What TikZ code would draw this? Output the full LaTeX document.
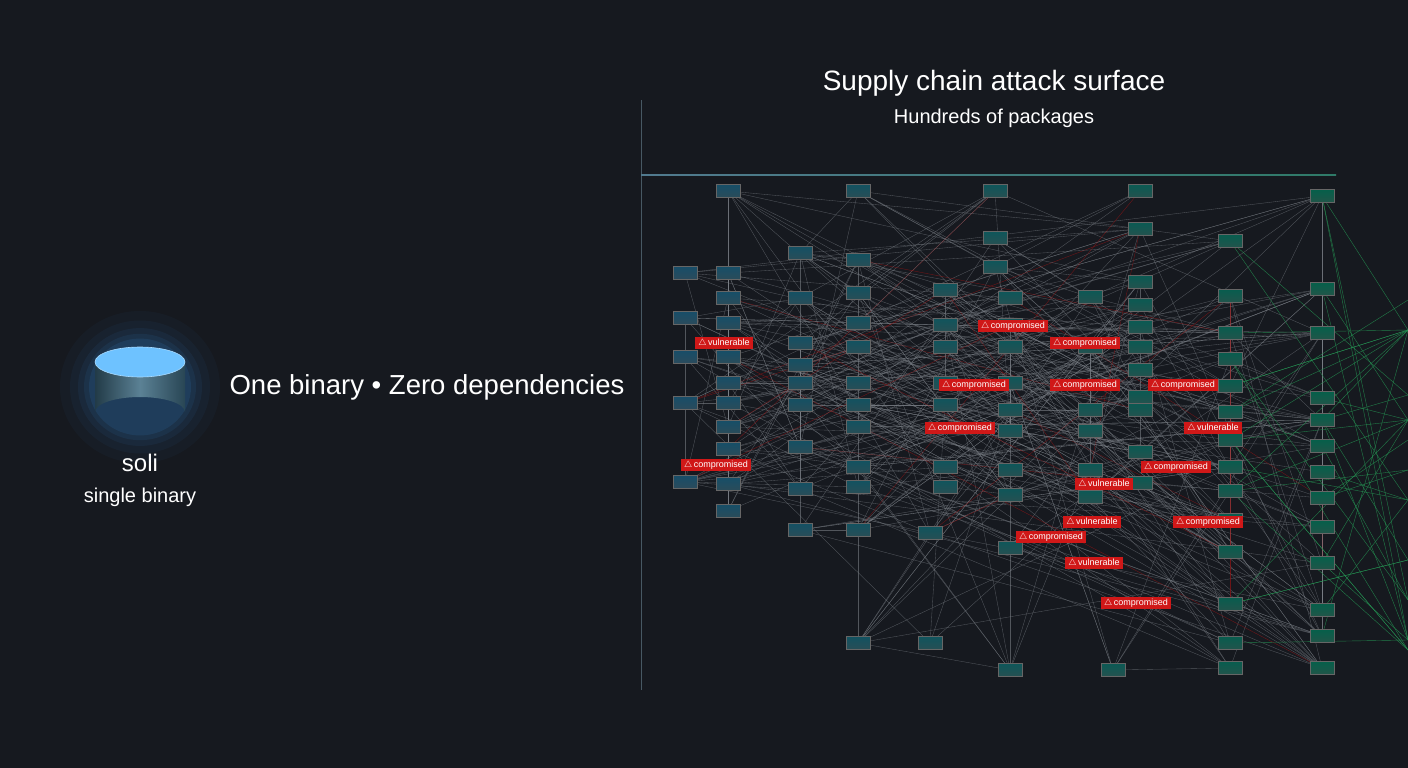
\documentclass[tikz,border=0pt]{standalone}
\usepackage{fontspec}
\setmainfont{Liberation Sans}
\definecolor{bg}{HTML}{16191F}
\definecolor{pkgA}{HTML}{3E6B82}
\definecolor{pkgB}{HTML}{2F7A68}
\definecolor{edge}{HTML}{7A7F86}
\definecolor{bad}{HTML}{D01818}
\definecolor{glow}{HTML}{3A8FE0}
\definecolor{captop}{HTML}{6EC2FF}
\tikzset{
 pkg/.style={draw=black!60,line width=0.4pt,top color=#1!120,bottom color=#1!70!black,minimum width=24pt,minimum height=13pt,inner sep=0pt},
 lnk/.style={edge,line width=0.35pt,opacity=0.6},
 rlnk/.style={bad!80!black,line width=0.4pt,opacity=0.6},
 glnk/.style={pkgB!80!green,line width=0.4pt,opacity=0.8},
 tag/.style={fill=bad,text=white,font=\fontsize{9}{10}\selectfont,inner xsep=3pt,inner ysep=1.5pt},
}
\begin{document}
\begin{tikzpicture}[x=1pt,y=-1pt]
\fill[bg] (0,0) rectangle (1408,768);
\useasboundingbox (0,0) rectangle (1408,768);
\draw[pkgA!70,line width=0.5pt,opacity=0.5] (641,100) -- (641,690);
\shade[left color=pkgA!90,right color=pkgB] (641,174.5) rectangle (1336,175.5);
\def\cols{685/{273,318,357,403,482},728/{191,273,298,323,357,383,403,427,449,484,511},800/{253,298,343,365,383,405,447,489,530},858/{191,260,293,323,347,383,405,427,467,487,530,643},930/{533,643},945/{290,325,347,383,405,467,487},995/{191,238,267},1010/{298,325,347,383,410,431,470,495,548,670},1090/{297,347,410,431,470,497},1113/{670},1140/{191,229,282,305,327,347,370,397,410,452,483},1230/{241,296,333,359,386,412,440,467,491,520,552,604,643,668},1322/{196,289,333,398,420,446,472,498,527,563,610,636,668}}
\newcount\pk \pk=0
\foreach \cx/\ys in \cols {
 \foreach \cy in \ys {
  \global\advance\pk by 1
  \coordinate (c\the\pk) at (\cx,\cy);
 }
}
\xdef\N{\the\pk}
\pgfmathsetseed{7}
\foreach \i in {1,...,420} {
 \pgfmathrandominteger{\a}{1}{\N}
 \pgfmathrandominteger{\b}{1}{\N}
 \pgfmathrandominteger{\t}{1}{18}
 \ifnum\t=1 \draw[rlnk] (c\a) -- (c\b); \else \draw[lnk] (c\a) -- (c\b); \fi
}
\foreach \i/\yy in {80/300,81/330,82/330,83/395,84/420,85/440,86/470,87/500,88/530,89/560,90/600,91/640,92/650,93/600} {
 \coordinate (o\i) at (1408,\yy);
}
\pgfmathsetseed{3}
\foreach \i in {1,...,40} {
 \pgfmathrandominteger{\a}{\N-26}{\N}
 \pgfmathrandominteger{\b}{80}{93}
 \draw[glnk] (c\a) -- (o\b);
}
\pk=0
\foreach \cx/\ys in \cols {
 \foreach \cy in \ys {
  \global\advance\pk by 1
  \pgfmathsetmacro\mixv{int(min(100,max(0,(\cx-685)/6.4)))}
  \colorlet{cc}{pkgB!\mixv!pkgA}
  \node[pkg=cc] (p\the\pk) at (\cx,\cy) {};
 }
}
\foreach \x/\y/\t in {1013/326/compromised,1085/343/compromised,974/385/compromised,1085/385/compromised,1183/385/compromised,960/428/compromised,1176/467/compromised,716/465/compromised,1051/537/compromised,1136/603/compromised,1208/522/compromised,724/343/vulnerable,1213/428/vulnerable,1104/484/vulnerable,1092/522/vulnerable,1094/563/vulnerable}
 \node[tag] (t\x\y) at (\x,\y) {$\triangle$\,\t};
\foreach \r/\o in {80/0.04,70/0.05,62/0.07,56/0.09,51/0.12}
 \fill[glow,opacity=\o] (140,387) ellipse ({\r} and {\r*0.95});
\shade[left color=pkgA!55!black,right color=pkgA!65!black,middle color=pkgA!85] (95,362) -- (95,412) arc[start angle=180,end angle=360,x radius=45,y radius=15] -- (185,362) -- cycle;
\fill[captop,draw=captop!60!white,line width=0.6pt] (140,362) ellipse (45 and 15);
\node[text=white,font=\fontsize{24}{26}\selectfont] (soli) at (140,463) {soli};
\node[text=white!85,font=\fontsize{20}{22}\selectfont] (sb) at (140,497) {single binary};
\node[text=white,font=\fontsize{27.5}{30}\selectfont] (ob) at (427,387) {One binary • Zero dependencies};
\node[text=white,font=\fontsize{28}{30}\selectfont] (title) at (994,83) {Supply chain attack surface};
\node[text=white!85,font=\fontsize{20}{22}\selectfont] (sub) at (994,118) {Hundreds of packages};
\end{tikzpicture}
\end{document}
